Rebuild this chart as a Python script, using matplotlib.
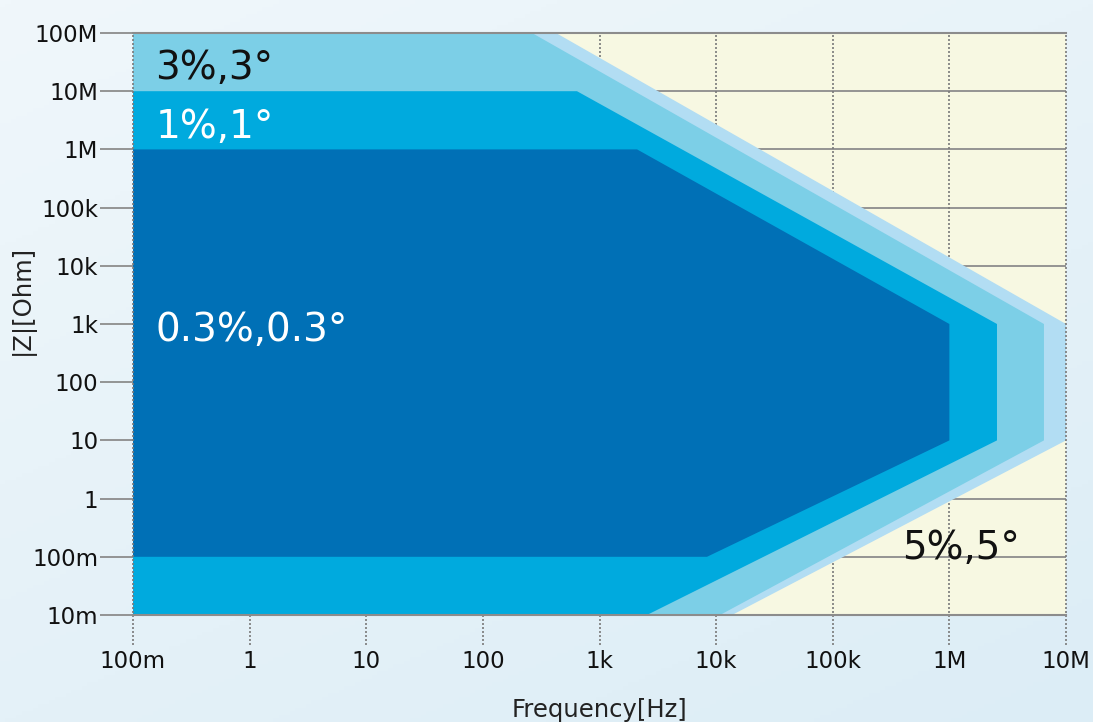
import numpy as np
import matplotlib
matplotlib.use("Agg")
import matplotlib.pyplot as plt
from matplotlib.colors import LinearSegmentedColormap
import matplotlib.transforms as mtransforms

# ---- data: accuracy regions (frequency [Hz], |Z| [Ohm]) ----
band5_f = [0.1, 424, 1e7, 1e7, 13.7e3, 0.1]
band5_z = [1e8, 1e8, 1e3, 10, 0.01, 0.01]

band3_f = [0.1, 264, 6.47e6, 6.47e6, 10.8e3, 0.1]
band3_z = [1e8, 1e8, 1e3, 10, 0.01, 0.01]

band1_f = [0.1, 641, 2.56e6, 2.56e6, 2.55e3, 0.1]
band1_z = [1e7, 1e7, 1e3, 10, 0.01, 0.01]

band03_f = [0.1, 2.1e3, 1e6, 1e6, 8.35e3, 0.1]
band03_z = [1e6, 1e6, 1e3, 10, 0.1, 0.1]

x_ticks = [0.1, 1, 10, 100, 1e3, 1e4, 1e5, 1e6, 1e7]
x_labels = ["100m", "1", "10", "100", "1k", "10k", "100k", "1M", "10M"]
y_ticks = [0.01, 0.1, 1, 10, 100, 1e3, 1e4, 1e5, 1e6, 1e7, 1e8]
y_labels = ["10m", "100m", "1", "10", "100", "1k", "10k", "100k", "1M", "10M", "100M"]

labels = ["3%,3°", "1%,1°", "0.3%,0.3°", "5%,5°"]
label_x = [0.155, 0.155, 0.155, 3.9e5]
label_y = [2.5e7, 2.4e6, 8.0e2, 0.14]
label_col = ["#111111", "white", "white", "#111111"]

c_yellow = "#f7f8e2"
c_5 = "#b2ddf3"
c_3 = "#7ccfe7"
c_1 = "#00aade"
c_03 = "#0070b6"
c_grid = "#8c8c8c"

fig = plt.figure(figsize=(10.93, 7.22), dpi=100)

# background gradient
bg = fig.add_axes([0, 0, 1, 1], zorder=-10)
cmap = LinearSegmentedColormap.from_list("bg", ["#f0f7fb", "#dcedf6"])
gx, gy = np.meshgrid(np.linspace(0, 1, 200), np.linspace(0, 1, 200))
bg.imshow(0.6 * gy + 0.4 * gx, cmap=cmap, aspect="auto", extent=[0, 1, 0, 1], origin="upper")
bg.axis("off")

ax = fig.add_axes([133 / 1093, 1 - 615 / 722, (1066 - 133) / 1093, (615 - 33) / 722])
ax.set_xscale("log")
ax.set_yscale("log")
ax.set_xlim(0.1, 1e7)
ax.set_ylim(0.01, 1e8)
ax.set_facecolor(c_yellow)

for fx, zy, col in [(band5_f, band5_z, c_5), (band3_f, band3_z, c_3),
                    (band1_f, band1_z, c_1), (band03_f, band03_z, c_03)]:
    ax.fill(fx, zy, color=col, lw=0, zorder=2)

# grid
for yv in y_ticks[1:-1]:
    ax.axhline(yv, color=c_grid, lw=1.3, zorder=1)
trans = mtransforms.blended_transform_factory(ax.transData, ax.transAxes)
for xv in x_ticks:
    ax.plot([xv, xv], [-0.052, 1.0], transform=trans, color="#7a7a7a", lw=1.2,
            ls=(0, (1.2, 1.2)), clip_on=False, zorder=1 if 0.1 < xv < 1e7 else 5)

ax.set_yticks(y_ticks)
ax.set_yticklabels(y_labels)
ax.set_xticks(x_ticks)
ax.set_xticklabels(x_labels)
ax.minorticks_off()
ax.tick_params(axis="y", length=24, width=1.3, color=c_grid, pad=1, labelsize=16.5, labelcolor="#111111")
ax.tick_params(axis="x", length=0, pad=25, labelsize=16.5, labelcolor="#111111")

for s in ["top", "bottom"]:
    ax.spines[s].set_color(c_grid)
    ax.spines[s].set_linewidth(1.5)
    ax.spines[s].set_zorder(6)
for s in ["left", "right"]:
    ax.spines[s].set_visible(False)

for t, x, y, c in zip(labels, label_x, label_y, label_col):
    ax.text(x, y, t, color=c, fontsize=28, va="center", ha="left", zorder=7)

fig.text(22 / 1093, 1 - 300 / 722, "|Z|[Ohm]", rotation=90, fontsize=17.5,
         va="center", ha="center", color="#222222")
fig.text(600 / 1093, 1 - 710 / 722, "Frequency[Hz]", fontsize=17.5,
         va="center", ha="center", color="#222222")

fig.savefig("out.png", dpi=100)
